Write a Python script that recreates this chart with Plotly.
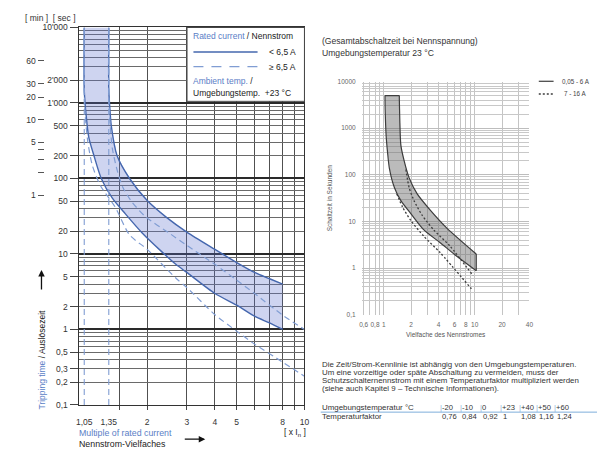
import math
import plotly.graph_objects as go

FONT = "Liberation Sans, Arial, Helvetica, sans-serif"
W, H = 602, 454

# ---------------- Left chart data (tripping curves) ----------------
threshold_multiples = [1.05, 1.35]
time_limits = [0.1, 10000]

# rated current < 6,5 A  (solid, band limits)
lower_solid_m = [1.05, 1.05, 1.07, 1.10, 1.16, 1.25, 1.40, 1.60, 1.90, 2.30, 2.68, 3.0, 4.0, 5.0, 6.0, 7.0, 8.0]
lower_solid_t = [10000, 1500, 700, 350, 200, 100, 55, 34, 19, 11, 7.3, 5.7, 3.0, 2.1, 1.5, 1.22, 1.0]
upper_solid_m = [1.35, 1.35, 1.36, 1.385, 1.47, 1.67, 2.0, 2.42, 3.0, 4.0, 5.0, 6.0, 7.0, 8.0]
upper_solid_t = [10000, 1500, 1000, 500, 200, 100, 51, 31, 19.5, 11.5, 7.7, 5.7, 4.7, 4.0]
# rated current >= 6,5 A (dashed)
lower_dash_m = [1.05, 1.05, 1.06, 1.09, 1.14, 1.24, 1.44, 1.667, 2.0, 2.68, 3.0, 4.0, 5.0, 6.0, 8.0, 10.0]
lower_dash_t = [10000, 1500, 700, 300, 150, 80, 42, 18, 11.5, 4.8, 3.6, 1.57, 0.95, 0.64, 0.37, 0.24]
upper_dash_m = [1.35, 1.35, 1.36, 1.40, 1.48, 1.56, 1.70, 1.97, 2.5, 3.0, 4.0, 5.0, 6.0, 8.0, 10.0]
upper_dash_t = [10000, 1500, 700, 250, 120, 76, 50, 31, 19, 13, 7.3, 4.5, 3.0, 1.55, 1.0]

sec_tick_vals = [10000, 2000, 1000, 500, 200, 100, 50, 20, 10, 5, 2, 1, 0.5, 0.3, 0.2, 0.1]
sec_tick_text = ["10'000", "2'000", "1'000", "500", "200", "100", "50", "20", "10", "5", "2", "1",
                 "0,5", "0,3", "0,2", "0,1"]
minute_tick_vals = [60, 30, 20, 10, 5, 4, 3, 2, 1]
minute_tick_text = ["60", "30", "20", "10", "5", "", "", "", "1"]
mult_tick_vals = [1.05, 1.35, 2, 3, 4, 5, 8, 10]
mult_tick_text = ["1,05", "1,35", "2", "3", "4", "5", "8", "10"]
mult_grid_vals = [1.5, 2, 3, 4, 5, 6, 7, 8, 9, 10]

# ---------------- Right chart data ----------------
r_lower_m = [1.03, 1.035, 1.06, 1.10, 1.15, 1.31, 1.54, 1.98, 2.76, 4.17, 6.3, 10.4]
r_lower_t = [5000, 2500, 700, 300, 140, 53, 28, 14.8, 6.6, 3.5, 1.82, 0.88]
r_upper_m = [1.48, 1.49, 1.54, 1.68, 1.90, 2.33, 3.26, 4.94, 10.4]
r_upper_t = [5000, 2500, 434, 194, 86, 39, 17.3, 7.2, 2.0]
r_dot_upper_m = [1.75, 1.90, 2.15, 2.64, 3.54, 5.36, 9.6]
r_dot_upper_t = [130, 53, 28, 13.6, 6.6, 2.95, 0.69]
r_dot_lower_m = [1.39, 1.61, 1.98, 2.76, 4.17, 9.2]
r_dot_lower_t = [39, 20.3, 10.5, 4.8, 2.14, 0.36]

r_x_tick_vals = [0.6, 0.8, 1, 2, 4, 6, 8, 10, 20, 40]
r_x_tick_text = ["0,6", "0,8", "1", "2", "4", "6", "8", "10", "20", "40"]
r_x_grid_vals = [0.6, 0.7, 0.8, 0.9, 1, 2, 3, 4, 5, 6, 7, 8, 9, 10, 20, 30, 40]
r_y_tick_vals = [0.1, 1, 10, 100, 1000, 10000]
r_y_tick_text = ["0,1", "1", "10", "100", "1000", "10000"]
r_x_min = 0.5705
r_x_max = 40

legend_right = ["0,05 - 6 A", "7 - 16 A"]

temps = ["-20", "-10", "0", "+23", "+40", "+50", "+60"]
factors = ["0,76", "0,84", "0,92", "1", "1,08", "1,16", "1,24"]

paragraph = [
    "Die Zeit/Strom-Kennlinie ist abhängig von den Umgebungstemperaturen.",
    "Um eine vorzeitige oder späte Abschaltung zu vermeiden, muss der",
    "Schutzschalternennstrom mit einem Temperaturfaktor multipliziert werden",
    "(siehe auch Kapitel 9 – Technische Informationen).",
]


def fx(p):
    return p / W


def fy(p):
    return 1 - p / H


decades = [0.1, 1, 10, 100, 1000, 10000]
fine_grid = [d * k for d in decades[:-1] for k in range(1, 10)] + [decades[-1]]

BLUE = "#4567ae"
BLUE_D = "#809dd3"
BLUE_TXT = "#5a7ec6"
DARK = "#222222"
GRAY = "#3d3d3d"
SPL = dict(shape="spline", smoothing=0.7)

fig = go.Figure()

# ---- left chart ----
fig.add_trace(go.Scatter(x=lower_solid_m + upper_solid_m[::-1], y=lower_solid_t + upper_solid_t[::-1],
                         mode="lines", fill="toself", fillcolor="rgba(92,112,205,0.30)",
                         line=dict(width=0), hoverinfo="skip", xaxis="x", yaxis="y"))
for v in threshold_multiples:
    fig.add_trace(go.Scatter(x=[v, v], y=time_limits, mode="lines", xaxis="x3", yaxis="y",
                             line=dict(color=BLUE_D, width=1.1, dash="6px,4px"), hoverinfo="skip"))
fig.add_trace(go.Scatter(x=lower_dash_m, y=lower_dash_t, mode="lines", xaxis="x", yaxis="y4",
                         line=dict(color=BLUE_D, width=1.2, dash="6px,4px", **SPL), hoverinfo="skip"))
fig.add_trace(go.Scatter(x=upper_dash_m, y=upper_dash_t, mode="lines", xaxis="x", yaxis="y5",
                         line=dict(color=BLUE_D, width=1.2, dash="6px,4px", **SPL), hoverinfo="skip"))
for mm, tt in [(lower_solid_m, lower_solid_t), (upper_solid_m, upper_solid_t)]:
    fig.add_trace(go.Scatter(x=mm, y=tt, mode="lines", xaxis="x", yaxis="y3",
                             line=dict(color=BLUE, width=1.4, **SPL), hoverinfo="skip"))

# ---- right chart ----
fig.add_trace(go.Scatter(x=r_lower_m + r_upper_m[::-1], y=r_lower_t + r_upper_t[::-1],
                         mode="lines", fill="toself", fillcolor="rgba(105,105,105,0.45)",
                         line=dict(width=0), hoverinfo="skip", xaxis="x2", yaxis="y2"))
for mm, tt in [(r_lower_m, r_lower_t), (r_upper_m, r_upper_t)]:
    fig.add_trace(go.Scatter(x=mm, y=tt, mode="lines", xaxis="x4", yaxis="y2",
                             line=dict(color=GRAY, width=1.2, **SPL), hoverinfo="skip"))
for i in (0, -1):
    fig.add_trace(go.Scatter(x=[r_lower_m[i], r_upper_m[i]], y=[r_lower_t[i], r_upper_t[i]], mode="lines",
                             xaxis="x4", yaxis="y2", line=dict(color=GRAY, width=1.2), hoverinfo="skip"))
for mm, tt in [(r_dot_upper_m, r_dot_upper_t), (r_dot_lower_m, r_dot_lower_t)]:
    fig.add_trace(go.Scatter(x=mm, y=tt, mode="lines", xaxis="x2", yaxis="y6",
                             line=dict(color=GRAY, width=1.3, dash="2px,2px", **SPL), hoverinfo="skip"))

tick_font = dict(family=FONT, size=8.5, color="#333")
rfont = dict(family=FONT, size=6.5, color="#666")
lrange = [-1, 4]
rxr = [math.log10(r_x_min), math.log10(r_x_max)]

fig.update_layout(
    width=W, height=H, margin=dict(l=0, r=0, t=0, b=0),
    paper_bgcolor="white", plot_bgcolor="white", showlegend=False,
    font=dict(family=FONT),
    # left chart
    xaxis=dict(type="log", range=[0, 1], domain=[fx(77.5), fx(305.5)], anchor="y",
               tickmode="array", tickvals=mult_grid_vals, showticklabels=False,
               ticks="outside", ticklen=4, tickcolor="#444", tickwidth=1,
               showgrid=True, gridcolor="#505050", gridwidth=1,
               showline=True, mirror=True, linecolor="#333", linewidth=1.2, zeroline=False),
    xaxis3=dict(type="log", range=[0, 1], overlaying="x", anchor="y", side="bottom",
                tickmode="array", tickvals=mult_tick_vals, ticktext=mult_tick_text, tickangle=0,
                tickfont=tick_font, ticks="", showgrid=False, showline=False, zeroline=False,
                ticklabelstandoff=11),
    yaxis=dict(type="log", range=lrange, domain=[fy(409), fy(23)], anchor="x",
               tickmode="array", tickvals=fine_grid, showticklabels=False, ticks="",
               showgrid=True, gridcolor="#6a6a6a", gridwidth=0.8,
               showline=True, mirror=True, linecolor="#333", linewidth=1.2, zeroline=False),
    yaxis3=dict(type="log", range=lrange, overlaying="y", anchor="x", side="left",
                tickmode="array", tickvals=decades, showticklabels=False, ticks="",
                showgrid=True, gridcolor="#2a2a2a", gridwidth=1.8, showline=False, zeroline=False),
    yaxis4=dict(type="log", range=lrange, overlaying="y", anchor="x", side="left",
                tickmode="array", tickvals=sec_tick_vals, ticktext=sec_tick_text,
                tickfont=tick_font, ticks="outside", ticklen=8, tickcolor="#444", tickwidth=1,
                showgrid=False, showline=False, zeroline=False, ticklabelstandoff=1),
    yaxis5=dict(type="log", range=lrange, overlaying="y", anchor="free", position=fx(42), side="left",
                tickmode="array", tickvals=[m * 60 for m in minute_tick_vals], ticktext=minute_tick_text,
                tickfont=tick_font, ticks="outside", ticklen=6, tickcolor="#555", tickwidth=1,
                showgrid=False, showline=False, zeroline=False, ticklabelstandoff=1),
    # right chart
    xaxis2=dict(type="log", range=rxr, domain=[fx(363.5), fx(533.5)], anchor="y2",
                tickmode="array", tickvals=r_x_grid_vals, showticklabels=False, ticks="",
                showgrid=True, gridcolor="#c4c4c4", gridwidth=0.8, showline=False, zeroline=False),
    xaxis4=dict(type="log", range=rxr, overlaying="x2", anchor="y2", side="bottom",
                tickmode="array", tickvals=r_x_tick_vals, ticktext=r_x_tick_text, tickangle=0,
                tickfont=rfont, ticks="", showgrid=False, showline=False, zeroline=False,
                ticklabelstandoff=5),
    yaxis2=dict(type="log", range=lrange, domain=[fy(316.7), fy(78.3)], anchor="x2",
                tickmode="array", tickvals=fine_grid, showticklabels=False, ticks="",
                showgrid=True, gridcolor="#c8c8c8", gridwidth=0.8, showline=False, zeroline=False),
    yaxis6=dict(type="log", range=lrange, overlaying="y2", anchor="x2", side="left",
                tickmode="array", tickvals=r_y_tick_vals, ticktext=r_y_tick_text,
                tickfont=rfont, ticks="", showgrid=True, gridcolor="#bdbdbd", gridwidth=1.2,
                showline=False, zeroline=False, ticklabelstandoff=5),
)


def ann(text, x, y, size=8.5, color=DARK, xanchor="left", yanchor="middle", angle=0):
    return dict(text=text, x=fx(x), y=fy(y), xref="paper", yref="paper", showarrow=False,
                font=dict(family=FONT, size=size, color=color), xanchor=xanchor, yanchor=yanchor,
                textangle=angle, borderpad=0)


def sp(txt, color):
    return "<span style='color:%s'>%s</span>" % (color, txt)


annotations = [
    ann("[ min ]  [ sec ]", 21, 13, size=8.5, color="#333"),
    ann(sp("Rated current", BLUE_TXT) + " / Nennstrom", 192, 31.5),
    ann("< 6,5 A", 298, 48, xanchor="right"),
    ann("≥ 6,5 A", 298, 63, xanchor="right"),
    ann(sp("Ambient temp.", BLUE_TXT) + " /", 192, 78),
    ann("Umgebungstemp.  +23 °C", 192, 90),
    ann(sp("Tripping time", BLUE_TXT) + " / Auslösezeit", 40, 362, angle=-90, xanchor="center",
        yanchor="middle"),
    ann(sp("Multiple of rated current", BLUE_TXT), 76, 438, size=8.8),
    ann("Nennstrom-Vielfaches", 76, 449, size=8.8),
    ann("[ x I<sub>n</sub> ]", 308, 437, xanchor="right"),
    # right chart texts
    ann("(Gesamtabschaltzeit bei Nennspannung)", 322, 37, size=8.6, color="#333"),
    ann("Umgebungstemperatur 23 °C", 322, 49.5, size=8.6, color="#333"),
    ann("Schaltzeit in Sekunden", 331, 197, size=6.5, color="#555", angle=-90, xanchor="center"),
    ann("Vielfache des Nennstromes", 449, 337, size=6.5, color="#555", xanchor="center"),
    ann(legend_right[0], 566, 78, size=6.3, color="#444"),
    ann(legend_right[1], 568, 91, size=6.3, color="#444"),
]
# arrows
annotations.append(dict(x=fx(39), y=fy(271), xref="paper", yref="paper", ax=0, ay=21, text="",
                        showarrow=True, arrowhead=2, arrowsize=1, arrowwidth=1.3, arrowcolor="#111"))
annotations.append(dict(x=fx(205), y=fy(444), xref="paper", yref="paper", ax=-22, ay=0, text="",
                        showarrow=True, arrowhead=2, arrowsize=1, arrowwidth=1.3, arrowcolor="#111"))

# paragraph
for i, line in enumerate(paragraph):
    annotations.append(ann(line, 322, 367.5 + i * 8.3, size=7.9, color="#333"))

# table
col_x = [441.5, 462, 482.5, 503, 521.5, 539.5, 557.5]
annotations.append(ann("Umgebungstemperatur °C", 322, 412, size=7.9, color="#333"))
annotations.append(ann("Temperaturfaktor", 322, 420.5, size=7.9, color="#333"))
for cx, tv, fv in zip(col_x, temps, factors):
    annotations.append(ann(sp("|", "#8fb3dd") + tv, cx, 412, size=7.6, color="#333"))
    annotations.append(ann(fv, cx + 2.5, 420.5, size=7.6, color="#333"))

shapes = [
    dict(type="rect", xref="paper", yref="paper", x0=fx(186.5), x1=fx(305.5), y0=fy(98.5), y1=fy(23),
         fillcolor="white", line=dict(color="#444", width=1), layer="above"),
    dict(type="line", xref="paper", yref="paper", x0=fx(193), x1=fx(258), y0=fy(48), y1=fy(48),
         line=dict(color=BLUE, width=1.4), layer="above"),
    dict(type="line", xref="paper", yref="paper", x0=fx(193), x1=fx(258), y0=fy(63), y1=fy(63),
         line=dict(color=BLUE_D, width=1.3, dash="10px,8px"), layer="above"),
    dict(type="line", xref="paper", yref="paper", x0=fx(543), x1=fx(558), y0=fy(78), y1=fy(78),
         line=dict(color=GRAY, width=1.2)),
    dict(type="line", xref="paper", yref="paper", x0=fx(543), x1=fx(558), y0=fy(91), y1=fy(91),
         line=dict(color=GRAY, width=1.3, dash="2px,2px")),
    dict(type="line", xref="paper", yref="paper", x0=fx(322), x1=fx(602), y0=fy(416.3), y1=fy(416.3),
         line=dict(color="#7eaedb", width=1)),
]

fig.update_layout(annotations=annotations, shapes=shapes)

fig.write_html("out.html", config={"displayModeBar": False},
               post_script="document.body.style.margin='0';")
